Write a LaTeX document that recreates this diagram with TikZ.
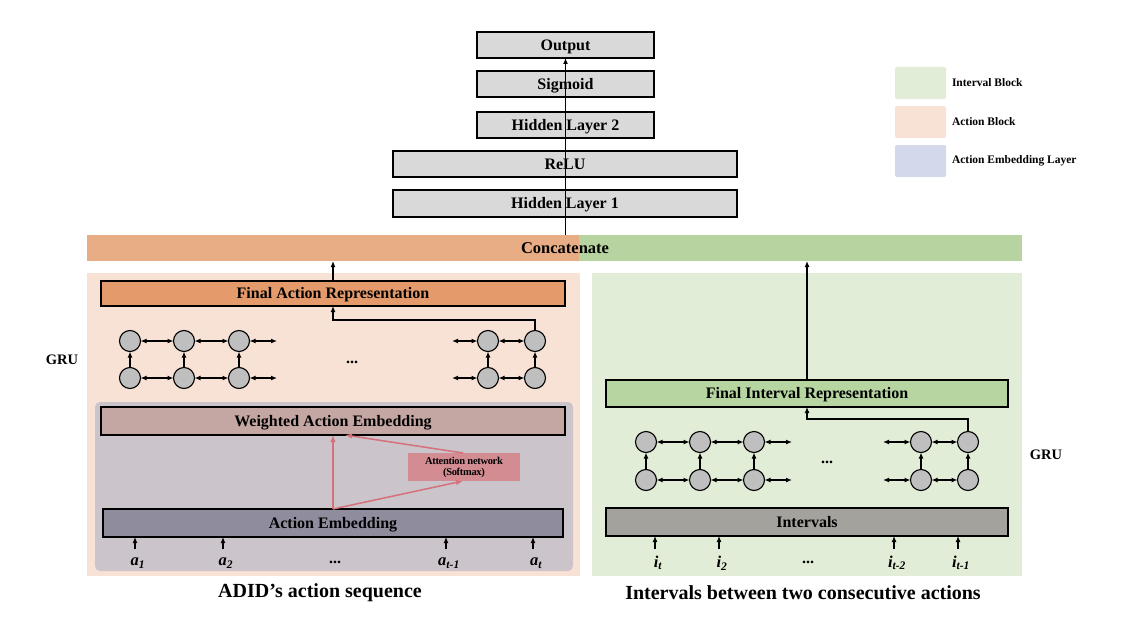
\documentclass[tikz,border=0pt]{standalone}
\usepackage{fontspec}
\setmainfont{Liberation Serif}
\usetikzlibrary{arrows.meta,calc}
\definecolor{boxgray}{HTML}{D9D9D9}
\definecolor{catL}{HTML}{E8AD85}
\definecolor{catR}{HTML}{B7D4A0}
\definecolor{actbg}{HTML}{F8E2D5}
\definecolor{intbg}{HTML}{E1EDD7}
\definecolor{farfill}{HTML}{E49A6B}
\definecolor{embpanel}{HTML}{CCC4CB}
\definecolor{wfill}{HTML}{C4A6A3}
\definecolor{attfill}{HTML}{D48C93}
\definecolor{aefill}{HTML}{8F8C9E}
\definecolor{firfill}{HTML}{B6D5A0}
\definecolor{intfill}{HTML}{A4A29D}
\definecolor{cellfill}{HTML}{BFBFBF}
\definecolor{redarr}{HTML}{D6707A}
\definecolor{legblue}{HTML}{D3D9EA}
\tikzset{
  x=1pt,y=-1pt,
  every node/.style={inner sep=0pt,outer sep=0pt},
  blk/.style={draw=black,line width=1.8pt,font=\fontsize{16}{18}\selectfont\bfseries,text height=10.6pt,text depth=0pt},
  topbox/.style={blk,fill=boxgray},
  cell/.style={circle,draw=black,line width=1.1pt,fill=cellfill,minimum size=21pt},
  arr/.style={-{Latex[length=6pt,width=5pt]},line width=1.5pt,black},
  darr/.style={{Latex[length=6pt,width=5pt]}-{Latex[length=6pt,width=5pt]},line width=1.5pt,black},
  rarr/.style={-{Latex[length=7pt,width=5.5pt]},line width=1.5pt,redarr},
  inlab/.style={font=\fontsize{16.5}{18}\selectfont\bfseries\itshape},
  dots/.style={font=\fontsize{16}{18}\selectfont\bfseries},
  title/.style={font=\fontsize{20}{22}\selectfont\bfseries},
  leg/.style={fill=#1,rounded corners=1.5pt,minimum width=51pt,minimum height=32pt},
  legtxt/.style={anchor=west,font=\fontsize{11.5}{13}\selectfont\bfseries},
  grulab/.style={font=\fontsize{14.5}{16}\selectfont\bfseries}
}
\begin{document}
\begin{tikzpicture}
\useasboundingbox (0,0) rectangle (1140,634);
\fill[white] (0,0) rectangle (1140,634);

% legend
\node[leg=intbg] (lg1) at (920.5,83) {};
\node[legtxt] (lt1) at (952,83) {Interval Block};
\node[leg=actbg] (lg2) at (920.5,122) {};
\node[legtxt] (lt2) at (952,122) {Action Block};
\node[leg=legblue] (lg3) at (920.5,161) {};
\node[legtxt] (lt3) at (952,161) {Action Embedding Layer};

% top stack
\node[topbox,minimum width=177pt,minimum height=26pt] (out) at (565.5,45) {Output};
\node[topbox,minimum width=177pt,minimum height=26pt] (sig) at (565.5,84) {Sigmoid};
\node[topbox,minimum width=177pt,minimum height=26pt] (hl2) at (565.5,125) {Hidden Layer 2};
\node[topbox,minimum width=344pt,minimum height=26pt] (relu) at (565,164) {ReLU};
\node[topbox,minimum width=344pt,minimum height=27pt] (hl1) at (565,203.5) {Hidden Layer 1};

% concatenate
\fill[catL] (87,235) rectangle (579,261);
\fill[catR] (579,235) rectangle (1022,261);
\node[minimum width=935pt,minimum height=26pt,text height=11pt,text depth=0pt,font=\fontsize{16.5}{18}\selectfont\bfseries] (cat) at (554.5,248) {\hspace*{21pt}Concatenate};

\draw[arr] (out.south |- cat.north) -- (out.south);

% blocks backgrounds
\fill[actbg] (87,273) rectangle (580,576);
\fill[intbg] (592,273) rectangle (1022,576);
\fill[embpanel,rounded corners=5pt] (95,402) rectangle (573,571);

% left column
\node[blk,fill=farfill,minimum width=464pt,minimum height=25pt] (far) at (333,293.5) {Final Action Representation};
\draw[arr] (far.north) -- (far.north |- cat.south);

\foreach \n/\x in {1/130,2/184,3/239,4/488,5/535}{
  \node[cell] (Lt\n) at (\x,341) {};
  \node[cell] (Lb\n) at (\x,378) {};
  \draw[arr] (Lb\n.north) -- (Lt\n.south);
}
\coordinate (Lte) at (277,341); \coordinate (Lbe) at (277,378);
\coordinate (Lts) at (452,341); \coordinate (Lbs) at (452,378);
\foreach \r/\e/\s in {t/Lte/Lts,b/Lbe/Lbs}{
  \draw[darr] (L\r1.east) -- (L\r2.west);
  \draw[darr] (L\r2.east) -- (L\r3.west);
  \draw[darr] (L\r3.east) -- (\e);
  \draw[darr] (\s) -- (L\r4.west);
  \draw[darr] (L\r4.east) -- (L\r5.west);
}
\node[dots] (Ldots) at (352,362) {...};
\coordinate (LJ) at (535,320);
\draw[arr] (Lt5.north) -- (LJ) -| (far.south);
\node[grulab] (gruL) at (62,360) {GRU};

\node[blk,fill=wfill,minimum width=464pt,minimum height=28pt] (wae) at (333,421) {Weighted Action Embedding};
\node[fill=attfill,minimum width=112pt,minimum height=28pt,align=center,font=\fontsize{10.5}{11}\selectfont\bfseries\addfontfeatures{LetterSpace=-3}] (att) at (464,467) {Attention network\\(Softmax)};
\node[blk,fill=aefill,minimum width=460pt,minimum height=28pt] (ae) at (333,523) {Action Embedding};

\draw[rarr] (ae.north) -- (wae.south);
\draw[rarr] (ae.north) -- ([xshift=-1pt]att.south);
\draw[rarr] ([xshift=-1pt]att.north) -- ([xshift=12pt]wae.south);

\foreach \n/\x/\t in {1/135/a\textsubscript{1},2/223/a\textsubscript{2},3/446/a\textsubscript{t-1},4/533/a\textsubscript{t}}{
  \coordinate (ia\n) at (\x,549);
  \draw[arr] (ia\n) -- (ia\n |- ae.south);
  \node[inlab] (la\n) at ($(\x,563)+(3,0)$) {\t};
}
\node[dots] (adots) at (335,562) {...};
\node[title] (tl) at (320,593) {ADID’s action sequence};

% right column
\node[blk,fill=firfill,minimum width=402pt,minimum height=27pt] (fir) at (807,393.5) {Final Interval Representation};
\draw[arr] (fir.north) -- (fir.north |- cat.south);

\foreach \n/\x in {1/646,2/700,3/754,4/921,5/968}{
  \node[cell] (Rt\n) at (\x,442) {};
  \node[cell] (Rb\n) at (\x,480) {};
  \draw[arr] (Rb\n.north) -- (Rt\n.south);
}
\coordinate (Rte) at (792,442); \coordinate (Rbe) at (792,480);
\coordinate (Rts) at (883,442); \coordinate (Rbs) at (883,480);
\foreach \r/\e/\s in {t/Rte/Rts,b/Rbe/Rbs}{
  \draw[darr] (R\r1.east) -- (R\r2.west);
  \draw[darr] (R\r2.east) -- (R\r3.west);
  \draw[darr] (R\r3.east) -- (\e);
  \draw[darr] (\s) -- (R\r4.west);
  \draw[darr] (R\r4.east) -- (R\r5.west);
}
\node[dots] (Rdots) at (827,462) {...};
\coordinate (RJ) at (968,419);
\draw[arr] (Rt5.north) -- (RJ) -| (fir.south);
\node[grulab] (gruR) at (1046,455) {GRU};

\node[blk,fill=intfill,minimum width=402pt,minimum height=28pt] (iv) at (807,522) {Intervals};
\foreach \n/\x/\t in {1/655/i\textsubscript{t},2/719/i\textsubscript{2},3/894/i\textsubscript{t-2},4/958/i\textsubscript{t-1}}{
  \coordinate (ii\n) at (\x,549);
  \draw[arr] (ii\n) -- (ii\n |- iv.south);
  \node[inlab] (li\n) at ($(\x,563)+(3,0)$) {\t};
}
\node[dots] (idots) at (808,562) {...};
\node[title] (tr) at (803,593) {Intervals between two consecutive actions};
\end{tikzpicture}
\end{document}
